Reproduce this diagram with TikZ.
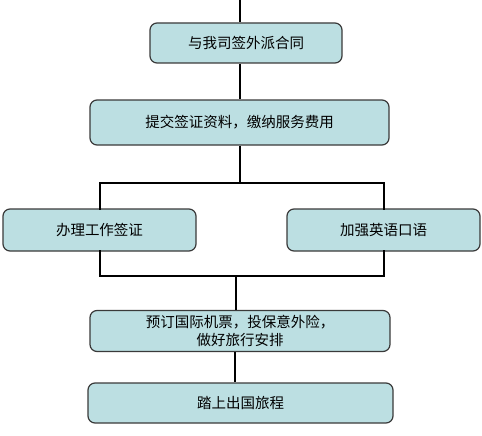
\documentclass[tikz,border=0pt]{standalone}
\usepackage{fontspec}
\setmainfont{Noto Sans CJK SC}
\definecolor{boxfill}{HTML}{BCDFE2}
\definecolor{boxline}{HTML}{3A3A3A}
\begin{document}
\begin{tikzpicture}[x=1pt,y=-1pt,
  stepbox/.style={draw=boxline,line width=1.2pt,fill=boxfill,rounded corners=7pt,
    inner sep=0pt,font=\fontsize{14.5}{17.5}\selectfont,align=center},
  conn/.style={draw=black,line width=2.8pt}]
\useasboundingbox (0,0) rectangle (482,436);
\node[stepbox,minimum width=192pt,minimum height=40pt] (b1) at (246,43) {与我司签外派合同};
\node[stepbox,minimum width=299pt,minimum height=45pt] (b2) at (239.5,122.5) {提交签证资料，缴纳服务费用};
\node[stepbox,minimum width=193pt,minimum height=42pt] (bl) at (99.5,230) {办理工作签证};
\node[stepbox,minimum width=193pt,minimum height=42pt] (br) at (383.5,230) {加强英语口语};
\node[stepbox,minimum width=300pt,minimum height=41pt] (b4) at (240,331) {预订国际机票，投保意外险，\\做好旅行安排};
\node[stepbox,minimum width=305pt,minimum height=40pt] (b5) at (240.5,403) {踏上出国旅程};
\coordinate (top) at (240,0);
\coordinate (j1) at (240,183);
\coordinate (jl) at (100,183);
\coordinate (jr) at (384,183);
\coordinate (k) at (236,276);
\coordinate (kl) at (100,276);
\coordinate (kr) at (384,276);
\coordinate (m) at (235,370);
\draw[conn] (top) -- (top |- b1.north);
\draw[conn] (b1.south -| top) -- (b2.north -| top);
\draw[conn] (b2.south -| j1) -- (j1);
\draw[conn,line cap=rect] (bl.north -| jl) -- (jl) -- (jr) -- (br.north -| jr);
\draw[conn,line cap=rect] (bl.south -| kl) -- (kl) -- (kr) -- (br.south -| kr);
\draw[conn] (k) -- (b4.north -| k);
\draw[conn] (b4.south -| m) -- (b5.north -| m);
\end{tikzpicture}
\end{document}
